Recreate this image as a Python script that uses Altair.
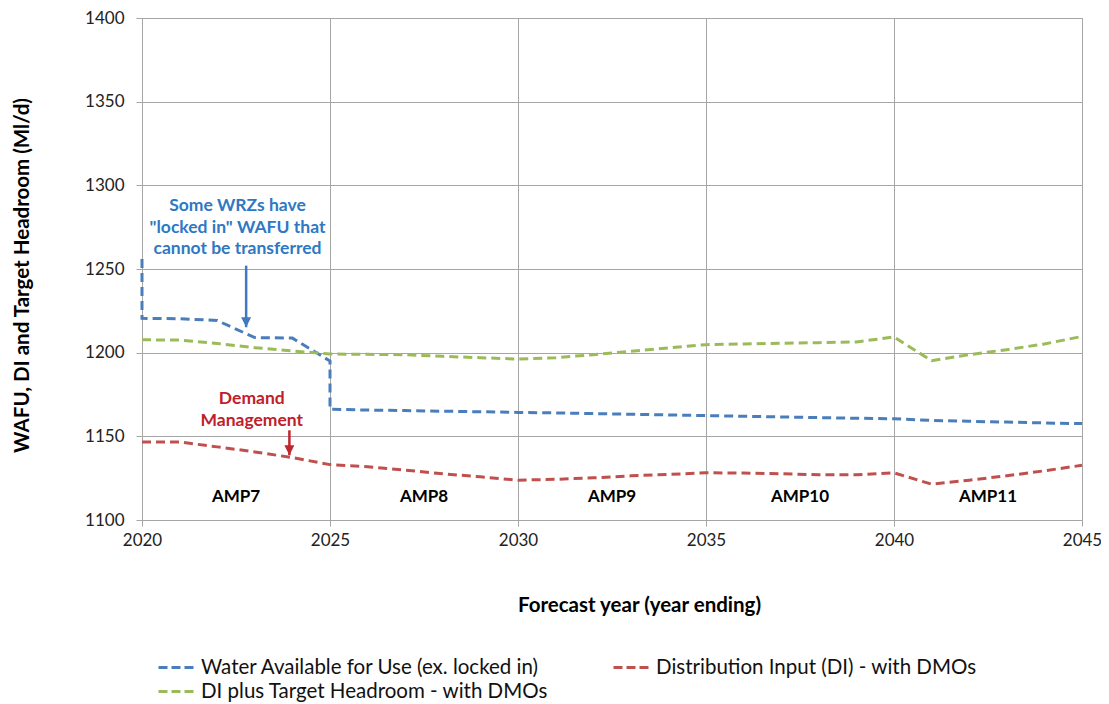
import altair as alt
import pandas as pd

# ---- data ----
S_WAFU = "Water Available for Use (ex. locked in)"
S_DI = "Distribution Input (DI) - with DMOs"
S_TH = "DI plus Target Headroom - with DMOs"

wafu_years = [2020, 2020, 2021, 2022, 2023, 2024, 2025, 2025, 2026, 2027, 2028, 2029, 2030,
              2031, 2032, 2033, 2034, 2035, 2036, 2037, 2038, 2039, 2040, 2041, 2042, 2043, 2044, 2045]
wafu_vals = [1256, 1220.5, 1220.3, 1219.2, 1209, 1208.7, 1195, 1166.2, 1165.7, 1165.4, 1165, 1164.7, 1164.3,
             1164, 1163.6, 1163.2, 1162.8, 1162.4, 1162, 1161.6, 1161.2, 1160.8, 1160.5, 1159.5, 1159, 1158.5, 1158, 1157.6]

di_years = list(range(2020, 2046))
di_vals = [1146.6, 1146.6, 1143.7, 1140.7, 1137.3, 1133.1, 1131.8, 1129.8, 1127.6, 1125.8, 1123.8,
           1124.3, 1125.2, 1126.4, 1127.2, 1128.2, 1128.1, 1127.6, 1127.1, 1127, 1128.2,
           1121.4, 1123.8, 1126.4, 1129.4, 1132.7]

th_years = list(range(2020, 2046))
th_vals = [1207.7, 1207.5, 1205.5, 1203, 1201, 1199.2, 1199, 1198.8, 1197.8, 1197, 1196.2,
           1197, 1198.8, 1200.8, 1202.8, 1204.8, 1205.2, 1205.6, 1206, 1206.4, 1209.4,
           1195.2, 1198.8, 1201.8, 1205.2, 1209.7]

amp_labels = ["AMP7", "AMP8", "AMP9", "AMP10", "AMP11"]
amp_x = [2022.5, 2027.5, 2032.5, 2037.5, 2042.5]
amp_y = [1113.7, 1113.7, 1113.7, 1113.7, 1113.7]

note_blue_lines = ["Some WRZs have", "\"locked in\" WAFU that", "cannot be transferred"]
note_blue_x = [2022.54, 2022.54, 2022.54]
note_blue_y = [1287.5, 1274.6, 1261.7]

note_red_lines = ["Demand", "Management"]
note_red_x = [2022.92, 2022.92]
note_red_y = [1172.6, 1159.1]

arrow_x = [2022.77, 2023.92]
arrow_top = [1252.0, 1153.6]
arrow_tip = [1215.2, 1138.7]
arrow_color = ["#3F7AC0", "#C0262D"]

# legend lays out column-major: col 1 = first two, col 2 = last
series_names = [S_WAFU, S_TH, S_DI]
series_colors = ["#4A7EBB", "#9BBB59", "#C0504D"]

# ---- tables ----
rows = []
for i, (x, v) in enumerate(zip(wafu_years, wafu_vals)):
    rows.append({"series": S_WAFU, "year": x, "value": v, "ord": i})
for i, (x, v) in enumerate(zip(di_years, di_vals)):
    rows.append({"series": S_DI, "year": x, "value": v, "ord": i})
for i, (x, v) in enumerate(zip(th_years, th_vals)):
    rows.append({"series": S_TH, "year": x, "value": v, "ord": i})
lines_df = pd.DataFrame(rows)

amp_df = pd.DataFrame({"label": amp_labels, "x": amp_x, "y": amp_y})
blue_df = pd.DataFrame({"label": note_blue_lines, "x": note_blue_x, "y": note_blue_y})
red_df = pd.DataFrame({"label": note_red_lines, "x": note_red_x, "y": note_red_y})
arrow_df = pd.DataFrame({"x": arrow_x, "top": arrow_top, "tip": arrow_tip, "c": arrow_color})

FONT = "Lato"
GRID = "#A6A6A6"

xscale = alt.Scale(domain=[2020, 2045], nice=False, zero=False)
yscale = alt.Scale(domain=[1100, 1400], nice=False, zero=False)

lines = alt.Chart(lines_df).mark_line(strokeWidth=3, strokeDash=[9, 5]).encode(
    x=alt.X("year:Q", scale=xscale,
            axis=alt.Axis(values=[2020, 2025, 2030, 2035, 2040, 2045], format="d",
                          title="Forecast year (year ending)",
                          titleX=497, titleY=85, titleAlign="center", titleBaseline="middle",
                          labelPadding=6)),
    y=alt.Y("value:Q", scale=yscale,
            axis=alt.Axis(values=[1100, 1150, 1200, 1250, 1300, 1350, 1400], format="d",
                          title="WAFU, DI and Target Headroom (Ml/d)",
                          titleX=-120, titleY=257, titleAlign="center", titleBaseline="middle",
                          labelPadding=12)),
    color=alt.Color("series:N",
                    scale=alt.Scale(domain=series_names, range=series_colors),
                    legend=alt.Legend(title=None, orient="none", legendX=21, legendY=636,
                                      columns=2, columnPadding=58, rowPadding=0,
                                      symbolType="M-1.5,0H1.5", symbolSize=576,
                                      symbolStrokeWidth=3, symbolDash=[9, 4],
                                      labelFont=FONT, labelFontSize=20.5, labelColor="#111",
                                      labelOffset=11, labelLimit=600)),
    order="ord:Q",
)

amp = alt.Chart(amp_df).mark_text(font=FONT, fontSize=17, fontWeight="bold", color="#000").encode(
    x=alt.X("x:Q", scale=xscale), y=alt.Y("y:Q", scale=yscale), text="label:N")

blue_txt = alt.Chart(blue_df).mark_text(font=FONT, fontSize=17.5, fontWeight="bold", color="#2E78C4").encode(
    x=alt.X("x:Q", scale=xscale), y=alt.Y("y:Q", scale=yscale), text="label:N")

red_txt = alt.Chart(red_df).mark_text(font=FONT, fontSize=17.5, fontWeight="bold", color="#C0202A").encode(
    x=alt.X("x:Q", scale=xscale), y=alt.Y("y:Q", scale=yscale), text="label:N")

shaft = alt.Chart(arrow_df).mark_rule(strokeWidth=2.5).encode(
    x=alt.X("x:Q", scale=xscale), y=alt.Y("top:Q", scale=yscale), y2="tip:Q",
    color=alt.Color("c:N", scale=None))

head = alt.Chart(arrow_df).mark_point(shape="M-1,-1L1,-1L0,1Z", filled=True, opacity=1,
                                      size=100, yOffset=-5).encode(
    x=alt.X("x:Q", scale=xscale), y=alt.Y("tip:Q", scale=yscale),
    color=alt.Color("c:N", scale=None))

chart = alt.layer(lines, amp, blue_txt, red_txt, shaft, head).properties(
    width=940, height=502,
    background="white",
    autosize=alt.AutoSizeParams(type="none"),
    padding={"left": 134, "top": 10, "right": 19, "bottom": 182},
).configure_view(stroke=GRID, strokeWidth=1).configure_axis(
    grid=True, gridColor=GRID, gridWidth=1, domainColor=GRID, tickColor=GRID, tickSize=6,
    labelFlush=False,
    labelFont=FONT, labelFontSize=17, labelColor="#222",
    titleFont=FONT, titleFontSize=20.5, titleFontWeight="bold", titleColor="#000",
)

chart.save("out.html", embed_options={"renderer": "svg", "actions": False})
